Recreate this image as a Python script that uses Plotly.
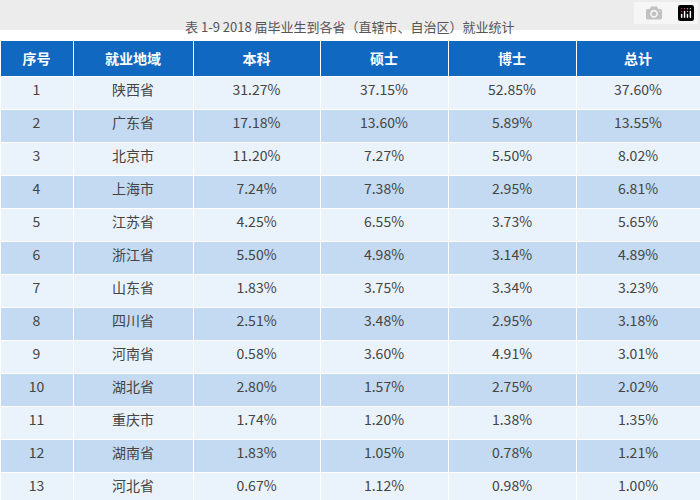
import plotly.graph_objects as go

headers = ["序号", "就业地域", "本科", "硕士", "博士", "总计"]
idx = [str(i) for i in range(1, 14)]
regions = ["陕西省", "广东省", "北京市", "上海市", "江苏省", "浙江省", "山东省", "四川省", "河南省", "湖北省", "重庆市", "湖南省", "河北省"]
benke = ["31.27%", "17.18%", "11.20%", "7.24%", "4.25%", "5.50%", "1.83%", "2.51%", "0.58%", "2.80%", "1.74%", "1.83%", "0.67%"]
shuoshi = ["37.15%", "13.60%", "7.27%", "7.38%", "6.55%", "4.98%", "3.75%", "3.48%", "3.60%", "1.57%", "1.20%", "1.05%", "1.12%"]
boshi = ["52.85%", "5.89%", "5.50%", "2.95%", "3.73%", "3.14%", "3.34%", "2.95%", "4.91%", "2.75%", "1.38%", "0.78%", "0.98%"]
zongji = ["37.60%", "13.55%", "8.02%", "6.81%", "5.65%", "4.89%", "3.23%", "3.18%", "3.01%", "2.02%", "1.35%", "1.21%", "1.00%"]

fills = ["#eaf3fc" if i % 2 == 0 else "#c3daf2" for i in range(len(idx))]

fig = go.Figure(go.Table(
    domain=dict(x=[0, 1], y=[0, 1 - 40 / 500]),
    columnwidth=[73, 120, 127, 128, 128, 124],
    header=dict(values=["<b>" + h + "</b>" for h in headers], fill_color="#1168c0", line_color="#ffffff", line_width=1,
                font=dict(color="white", size=14, family="Noto Sans CJK SC"), height=33, align="center"),
    cells=dict(values=[idx, regions, benke, shuoshi, boshi, zongji],
               fill_color=[fills] * 6, line_color="#ffffff", line_width=1,
               font=dict(color="#444444", size=14, family="Noto Sans CJK SC"), height=33, align="center"),
))
fig.add_shape(type="rect", xref="paper", yref="paper", x0=0, x1=1, y0=1 - 30 / 500, y1=1,
              fillcolor="#ececec", line_width=0, layer="below")
fig.add_annotation(text="表 1-9 2018 届毕业生到各省（直辖市、自治区）就业统计", xref="paper", yref="paper",
                   x=0.5, y=1 - 15 / 500, showarrow=False, font=dict(size=13, color="#555555", family="Noto Sans CJK SC"))
fig.update_layout(width=700, height=500, margin=dict(l=0, r=0, t=0, b=0), paper_bgcolor="white")
fig.write_html("out.html", post_script="document.body.style.margin='0';")
